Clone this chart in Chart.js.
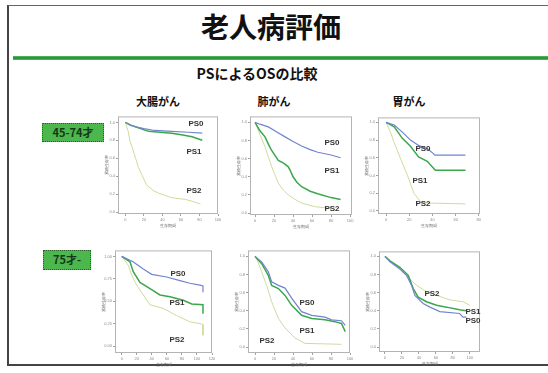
<!DOCTYPE html>
<html>
<head>
<meta charset="utf-8">
<script src="https://cdn.jsdelivr.net/npm/chart.js@4.4.0/dist/chart.umd.min.js"></script>
<style>
  body { margin:0; width:548px; height:373px; background:#fff; position:relative; overflow:hidden;
         font-family:"Noto Sans CJK JP", sans-serif; }
  .box { position:absolute; left:7px; top:5px; width:560px; height:358px;
         border-top:1px solid #666; border-left:2px solid #444; border-bottom:2px solid #444; }
  .bar { position:absolute; left:13px; top:56px; width:540px; height:4px;
         background:linear-gradient(#5dbb66,#1f8a2e 50%,#5dbb66); }
  .c { position:absolute; transform:translate(-50%,-50%); white-space:nowrap; line-height:1; color:#111; font-weight:bold; }
  .tag { position:absolute; background:#4cb74c; border:1px dotted #2a5e2a; color:#14361a;
         font-weight:bold; font-size:11px; line-height:17px; text-align:center; }
  .ps { position:absolute; transform:translate(-50%,-50%); font:bold 8px "Liberation Sans", sans-serif; color:#333; }
  canvas { position:absolute; }
</style>
</head>
<body>
<div class="box"></div>
<div class="bar"></div>
<div class="c" style="left:271px;top:26px;font-size:28px;">老人病評価</div>
<div class="c" style="left:257px;top:73px;font-size:14px;">PSによるOSの比較</div>
<div class="c" style="left:158px;top:101px;font-size:11px;">大腸がん</div>
<div class="c" style="left:274px;top:101px;font-size:11px;">肺がん</div>
<div class="c" style="left:409px;top:101px;font-size:11px;">胃がん</div>
<div class="tag" style="left:42px;top:123px;width:60px;height:17px;">45-74才</div>
<div class="tag" style="left:43px;top:250px;width:46px;height:18px;">75才-</div>

<script>
// ── survival curves: [months, survival] ──
const colonYoungPs0 = [[0,1],[5,0.97],[11,0.95],[20,0.93],[32,0.91],[50,0.90],[68,0.89],[83,0.88]];
const colonYoungPs1 = [[0,1],[6,0.97],[14,0.94],[25,0.90],[50,0.88],[62,0.86],[72,0.84],[83,0.80]];
const colonYoungPs2 = [[0,1],[3,0.90],[5,0.79],[8,0.70],[11,0.60],[14,0.50],[18,0.41],[23,0.30],[30,0.24],[36,0.21],[50,0.16],[65,0.14],[72,0.12],[81,0.09]];

const lungYoungPs0 = [[0,1],[5,0.98],[14,0.95],[22,0.90],[31.6,0.84],[40,0.79],[49,0.74],[58,0.70],[66,0.67],[80,0.64],[90,0.61]];
const lungYoungPs1 = [[0,1],[5,0.91],[10.5,0.84],[14,0.76],[17.5,0.69],[24.5,0.58],[30,0.55],[35,0.51],[37,0.47],[40,0.40],[44,0.34],[49,0.29],[58,0.24],[66.7,0.21],[80,0.17],[90,0.15]];
const lungYoungPs2 = [[0,1],[5,0.87],[10.5,0.73],[14,0.62],[17.5,0.51],[24.5,0.33],[30,0.25],[35,0.20],[42,0.15],[49,0.11],[63,0.07],[80,0.05]];

const stomachYoungPs0 = [[0,1],[7,0.97],[14,0.89],[21,0.80],[28,0.74],[36,0.70],[40.6,0.65],[42,0.63],[68.5,0.63]];
const stomachYoungPs1 = [[0,1],[7,0.95],[14,0.82],[21,0.73],[28,0.61],[35.5,0.56],[42.5,0.46],[68.5,0.46]];
const stomachYoungPs2 = [[0,1],[4,0.88],[7,0.77],[12.8,0.58],[18.5,0.40],[24,0.20],[30,0.10],[35.5,0.09],[68.5,0.08]];

const colonOldPs0 = [[0,1],[15,0.94],[28.6,0.86],[39.8,0.80],[59.7,0.77],[77.4,0.73],[90.7,0.70],[104,0.68],[108,0.67],[108,0.60]];
const colonOldPs1 = [[0,1],[10.9,0.94],[15.3,0.83],[24.2,0.71],[37.5,0.64],[50.8,0.57],[64.1,0.55],[81.8,0.51],[93,0.47],[108,0.46],[108,0.36]];
const colonOldPs2 = [[0,1],[8.7,0.90],[13.2,0.79],[19.8,0.68],[28.6,0.57],[37.5,0.46],[55.2,0.42],[73,0.34],[90.7,0.27],[104,0.25],[108,0.24],[108,0.12]];

const lungOldPs0 = [[0,1],[7,0.94],[14,0.83],[17.5,0.72],[24.6,0.68],[31.6,0.65],[38.6,0.54],[49,0.39],[59.7,0.35],[73.7,0.33],[80.7,0.30],[91,0.29],[95,0.24]];
const lungOldPs1 = [[0,1],[7,0.92],[14,0.79],[17.5,0.68],[24.6,0.645],[31.6,0.57],[38.6,0.46],[49,0.35],[59.7,0.315],[73.7,0.30],[84,0.28],[91,0.26],[95,0.17]];
const lungOldPs2 = [[0,1],[1.8,0.97],[7,0.83],[12.3,0.68],[17.5,0.50],[24.6,0.315],[31.6,0.21],[42,0.10],[52.6,0.04],[91,0.03]];

const stomachOldPs0 = [[0,1],[5.9,0.94],[17.6,0.86],[25.5,0.79],[31.4,0.68],[35.3,0.57],[45,0.48],[53,0.44],[64.7,0.39],[88,0.37],[92,0.33],[96,0.33]];
const stomachOldPs1 = [[0,1],[5.9,0.95],[17.6,0.88],[27.5,0.79],[33.3,0.645],[39.2,0.55],[49,0.50],[60.8,0.46],[72.6,0.44],[88,0.41],[96,0.40]];
const stomachOldPs2 = [[0,1],[5.9,0.95],[17.6,0.86],[29.4,0.75],[37.3,0.68],[49,0.61],[60.8,0.57],[76.5,0.52],[92,0.50],[100,0.46]];

const psNames = ['PS0', 'PS1', 'PS2'];
const lineColors = ['#7383d2', '#3aa84a', '#cddb9c'];
const lineWidths = [1.2, 1.5, 1];

// frame = [left, top, right, bottom] in page px; x/y = [min, max, step]; tags = label centres
const panels = [
  { frame:[118,116,218,214], x:[-8,100,20], y:[-0.022,1.067,0.2], curves:[colonYoungPs0, colonYoungPs1, colonYoungPs2], tags:[[196,123],[194,151],[194,190]] },
  { frame:[250,116,352,215], x:[-5.3,102,20], y:[-0.022,1.066,0.2], curves:[lungYoungPs0, lungYoungPs1, lungYoungPs2], tags:[[332,142],[332,170],[332,208]] },
  { frame:[378,117,480,214], x:[-7,81,20], y:[-0.034,1.056,0.2], curves:[stomachYoungPs0, stomachYoungPs1, stomachYoungPs2], tags:[[423,148],[420,180],[423,203]] },
  { frame:[115,250,212,353], x:[-9,120,20], y:[-0.078,1.067,0.25], curves:[colonOldPs0, colonOldPs1, colonOldPs2], tags:[[178,273],[177,302],[177,339]] },
  { frame:[248,250,350,353], x:[-7.4,100,20], y:[-0.066,1.066,0.2], curves:[lungOldPs0, lungOldPs1, lungOldPs2], tags:[[307,302],[307,330],[267,340]] },
  { frame:[379,251,480,352], x:[-7,112,20], y:[-0.055,1.055,0.2], curves:[stomachOldPs0, stomachOldPs1, stomachOldPs2], tags:[[473,320],[473,311],[432,293]] },
];

const Y_W = 14, X_H = 14, PAD_T = 3, PAD_R = 5;

const framePlugin = {
  id: 'frame',
  afterDraw(chart) {
    const a = chart.chartArea, ctx = chart.ctx;
    ctx.save();
    ctx.strokeStyle = '#b4b4b4';
    ctx.lineWidth = 1;
    ctx.strokeRect(a.left + 0.5, a.top + 0.5, a.right - a.left - 1, a.bottom - a.top - 1);
    ctx.restore();
  }
};

const tiny = { size: 4, family: 'Liberation Sans' };

panels.forEach(p => {
  const [l, t, r, b] = p.frame;
  const canvas = document.createElement('canvas');
  const w = (r - l) + Y_W + PAD_R;
  const h = (b - t) + PAD_T + X_H;
  canvas.width = w; canvas.height = h;
  canvas.style.left = (l - Y_W) + 'px';
  canvas.style.top = (t - PAD_T) + 'px';
  canvas.style.width = w + 'px'; canvas.style.height = h + 'px';
  document.body.appendChild(canvas);

  new Chart(canvas, {
    type: 'line',
    data: {
      datasets: p.curves.map((d, i) => ({
        label: psNames[i],
        data: d.map(pt => ({ x: pt[0], y: pt[1] })),
        borderColor: lineColors[i],
        borderWidth: lineWidths[i],
        pointRadius: 0,
        tension: 0,
        fill: false,
      }))
    },
    options: {
      responsive: false,
      animation: false,
      devicePixelRatio: 1,
      layout: { padding: { top: PAD_T, right: PAD_R, left: 0, bottom: 0 } },
      plugins: { legend: { display: false }, tooltip: { enabled: false } },
      scales: {
        x: {
          type: 'linear', min: p.x[0], max: p.x[1],
          ticks: { stepSize: p.x[2], includeBounds: false, font: tiny, color: '#8a8a8a', padding: 1, maxRotation: 0, autoSkip: false },
          grid: { drawOnChartArea: false, tickLength: 2, color: '#a0a0a0' },
          border: { display: false },
          title: { display: true, text: '生存期間', font: tiny, color: '#666', padding: 0 },
          afterFit(s) { s.height = X_H; }
        },
        y: {
          min: p.y[0], max: p.y[1],
          ticks: { stepSize: p.y[2], includeBounds: false, font: tiny, color: '#8a8a8a', padding: 1,
                   callback: v => v.toFixed(p.y[2] === 0.25 ? 2 : 1) },
          grid: { drawOnChartArea: false, tickLength: 2, color: '#a0a0a0' },
          border: { display: false },
          title: { display: true, text: '累積生存率', font: tiny, color: '#666', padding: 0 },
          afterFit(s) { s.width = Y_W; }
        }
      }
    },
    plugins: [framePlugin]
  });

  p.tags.forEach((pos, i) => {
    const el = document.createElement('div');
    el.className = 'ps';
    el.textContent = psNames[i];
    el.style.left = pos[0] + 'px';
    el.style.top = pos[1] + 'px';
    document.body.appendChild(el);
  });
});
</script>
</body>
</html>
